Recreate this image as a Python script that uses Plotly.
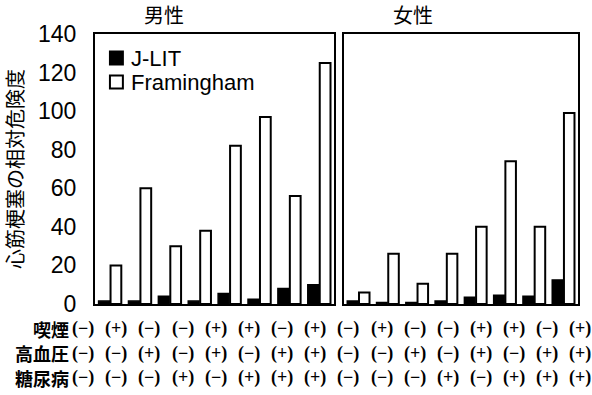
import plotly.graph_objects as go

# Risk-factor combinations (same order for both panels)
smoking = ["−", "+", "−", "−", "+", "+", "−", "+"]
hypertension = ["−", "−", "+", "−", "+", "−", "+", "+"]
diabetes = ["−", "−", "−", "+", "−", "+", "+", "+"]
combos = [f"{s}{h}{d}" for s, h, d in zip(smoking, hypertension, diabetes)]

# Relative risk of myocardial infarction
male_jlit = [1.5, 1.5, 4, 1.5, 5.5, 2.5, 8, 10]
male_fram = [20, 60, 30, 38, 82, 97, 56, 125]
female_jlit = [1.5, 0.8, 0.8, 1.5, 3.5, 4.5, 4, 12.5]
female_fram = [6, 26, 10.5, 26, 40, 74, 40, 99]

series_names = ["J-LIT", "Framingham"]
y_ticks = [0, 20, 40, 60, 80, 100, 120, 140]
row_names = ["喫煙", "高血圧", "糖尿病"]
panel_titles = ["男性", "女性"]

JP = "Noto Sans CJK JP"
SANS = "Liberation Sans"
black_bar = dict(color="black", line=dict(color="black", width=1.5))
white_bar = dict(color="white", line=dict(color="black", width=2))

# plot-area geometry in pixels (used to place the text annotations)
W, H = 592, 395
L, R, T, B = 93, 14, 34, 91
PW, PH = W - L - R, H - T - B


def px_x(xpx):
    return (xpx - L) / PW


def px_y(ypx):
    return (H - B - ypx) / PH


fig = go.Figure()
fig.add_bar(x=combos, y=male_jlit, name=series_names[0], marker=black_bar,
            xaxis="x", yaxis="y")
fig.add_bar(x=combos, y=male_fram, name=series_names[1], marker=white_bar,
            xaxis="x", yaxis="y")
fig.add_bar(x=combos, y=female_jlit, name=series_names[0], marker=black_bar,
            xaxis="x2", yaxis="y2")
fig.add_bar(x=combos, y=female_fram, name=series_names[1], marker=white_bar,
            xaxis="x2", yaxis="y2")

frame = dict(showline=True, linecolor="black", linewidth=2, mirror=True,
             showgrid=False, zeroline=False)
fig.update_layout(
    width=W, height=H,
    margin=dict(l=L, r=R, t=T, b=B),
    paper_bgcolor="white", plot_bgcolor="white",
    barmode="group", bargap=0.2, bargroupgap=0.1,
    showlegend=False,
    xaxis=dict(domain=[0, 0.495], showticklabels=False, ticks="", **frame),
    xaxis2=dict(domain=[0.515, 1], showticklabels=False, ticks="", **frame),
    yaxis=dict(range=[0, 140], tickvals=y_ticks, ticks="",
               ticklabelstandoff=12,
               tickfont=dict(family=SANS, size=23, color="black"),
               title=dict(text="心筋梗塞の相対危険度", standoff=12,
                          font=dict(family=JP, size=20, color="black")),
               **frame),
    yaxis2=dict(range=[0, 140], tickvals=y_ticks, showticklabels=False,
                ticks="", anchor="x2", **frame),
)

annotations = []
shapes = []

# Compact key in the upper-left of the male panel
key_rows = [(58, "black"), (82, "white")]
for name, (ypx, fill) in zip(series_names, key_rows):
    shapes.append(dict(type="rect", xref="paper", yref="paper",
                       x0=px_x(108), x1=px_x(121),
                       y0=px_y(ypx + 6.5), y1=px_y(ypx - 6.5),
                       fillcolor=fill, line=dict(color="black", width=2)))
    annotations.append(dict(text=name, x=px_x(127), y=px_y(ypx),
                            xref="paper", yref="paper", showarrow=False,
                            font=dict(family=SANS, size=22, color="black"),
                            xanchor="left", yanchor="middle"))

# Panel titles
for title, xpx in zip(panel_titles, [162, 412]):
    annotations.append(dict(text=title, x=px_x(xpx), y=px_y(15),
                            xref="paper", yref="paper", showarrow=False,
                            font=dict(family=JP, size=20, color="black"),
                            xanchor="center", yanchor="middle"))

# Condition table below the bars: 16 columns spanning both panels
all_rows = [smoking * 2, hypertension * 2, diabetes * 2]
row_y = [328.5, 353, 377.5]
col0, col_step = 81, 33.3

for name, vals, ypx in zip(row_names, all_rows, row_y):
    annotations.append(dict(text=f"<b>{name}</b>", x=px_x(68), y=px_y(ypx),
                            xref="paper", yref="paper", showarrow=False,
                            borderpad=0,
                            font=dict(family=JP, size=18, color="black"),
                            xanchor="right", yanchor="middle"))
    for i, v in enumerate(vals):
        annotations.append(dict(text=f"<b>({v})</b>",
                                x=px_x(col0 + i * col_step),
                                y=px_y(ypx), xref="paper", yref="paper",
                                showarrow=False, borderpad=0,
                                font=dict(family="Liberation Sans Narrow",
                                          size=18, color="black"),
                                xanchor="center", yanchor="middle"))
fig.update_layout(annotations=annotations, shapes=shapes)

fig.write_html("out.html")
